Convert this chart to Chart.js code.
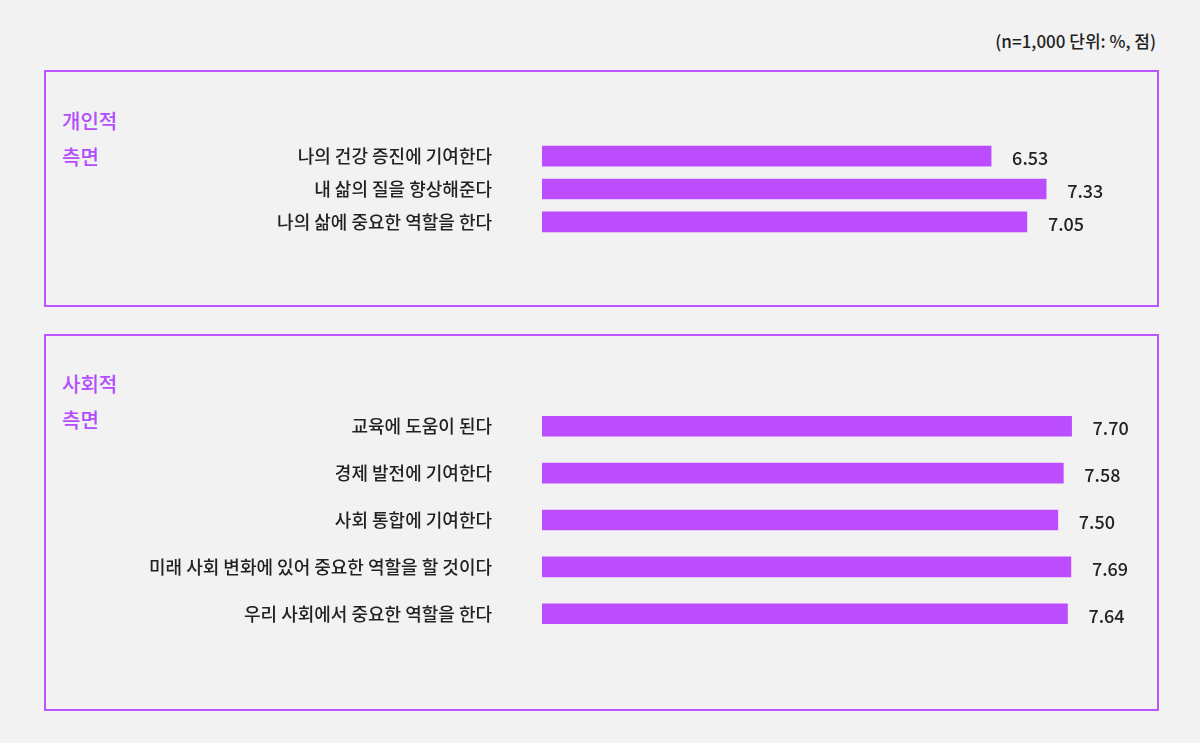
<!DOCTYPE html>
<html><head><meta charset="utf-8">
<script src="https://cdn.jsdelivr.net/npm/chart.js@4"></script>
<style>
body{margin:0;width:1200px;height:743px;background:#f2f2f2;position:relative;overflow:hidden;font-family:"Noto Sans CJK KR","Noto Sans",sans-serif}
.box{position:absolute;left:44px;width:1111px;border:2px solid #bb55ff;box-sizing:content-box}
.grp{position:absolute;left:62px;color:#b44dff;font-size:20px;font-weight:500;line-height:36px}
.note{position:absolute;right:44px;top:28px;font-size:17px;font-weight:500;color:#222}
canvas{position:absolute;left:0}
</style></head>
<body>
<div class="note">(n=1,000 단위: %, 점)</div>
<div class="box" style="top:70px;height:233px"></div>
<div class="box" style="top:334px;height:373px"></div>
<div class="grp" style="top:103px">개인적<br>측면</div>
<div class="grp" style="top:366px">사회적<br>측면</div>
<canvas id="c1" width="1200" height="204" style="top:87px"></canvas>
<canvas id="c2" width="1200" height="340" style="top:350px"></canvas>
<script>
const personalLabels = ['나의 건강 증진에 기여한다', '내 삶의 질을 향상해준다', '나의 삶에 중요한 역할을 한다']
const personalValues = [6.53, 7.33, 7.05]
const socialLabels = ['교육에 도움이 된다', '경제 발전에 기여한다', '사회 통합에 기여한다', '미래 사회 변화에 있어 중요한 역할을 할 것이다', '우리 사회에서 중요한 역할을 한다']
const socialValues = [7.70, 7.58, 7.50, 7.69, 7.64]

const valueLabels = {
  id: 'valueLabels',
  afterDatasetsDraw(chart) {
    const ctx = chart.ctx
    ctx.save()
    ctx.font = '500 18px "Noto Sans CJK KR"'
    ctx.fillStyle = '#222'
    ctx.textBaseline = 'middle'
    chart.getDatasetMeta(0).data.forEach((bar, i) => {
      ctx.fillText(chart.data.datasets[0].data[i].toFixed(2), bar.x + 21, bar.y + 2)
    })
    ctx.restore()
  }
}

const makeChart = (id, labels, values) => new Chart(document.getElementById(id), {
  type: 'bar',
  data: { labels: labels, datasets: [{ data: values, backgroundColor: '#bb4dff', barThickness: 20 }] },
  options: {
    indexAxis: 'y',
    responsive: false,
    animation: false,
    devicePixelRatio: 1,
    layout: { padding: { right: 39 } },
    plugins: { legend: { display: false }, tooltip: { enabled: false } },
    scales: {
      x: { display: false, min: 0, max: 9 },
      y: {
        grid: { display: false }, border: { display: false },
        afterFit: (scale) => { scale.width = 542 },
        ticks: { color: '#222', padding: 42, font: { size: 18, weight: 500, family: '"Noto Sans CJK KR"' } }
      }
    }
  },
  plugins: [valueLabels]
})
makeChart('c1', personalLabels, personalValues)
makeChart('c2', socialLabels, socialValues)
</script>
</body></html>
